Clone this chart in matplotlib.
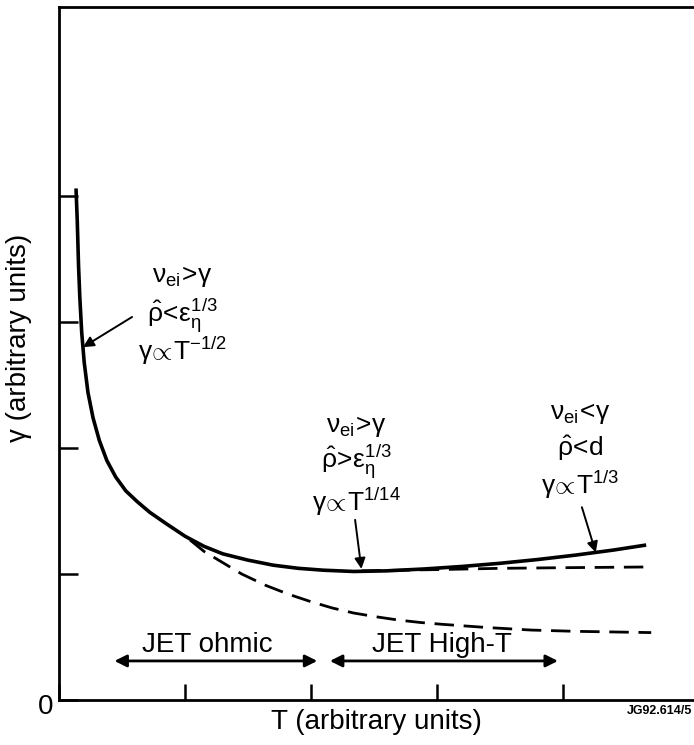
import matplotlib.pyplot as plt

plt.rcParams["font.family"] = ["Liberation Sans", "DejaVu Sans"]
plt.rcParams["mathtext.fontset"] = "custom"
plt.rcParams["mathtext.rm"] = "Liberation Sans"
plt.rcParams["mathtext.it"] = "Liberation Sans"
plt.rcParams["mathtext.bf"] = "Liberation Sans:bold"

# full growth-rate curve (arbitrary units)
T_full = [0.135, 0.145, 0.155, 0.165, 0.18, 0.20, 0.23, 0.27, 0.32, 0.38,
          0.45, 0.53, 0.62, 0.72, 0.85, 1.00, 1.15, 1.30, 1.50, 1.70,
          1.90, 2.10, 2.34, 2.60, 2.90, 3.20, 3.50, 3.80, 4.10, 4.40, 4.66]
g_full = [4.06, 3.80, 3.45, 3.20, 2.92, 2.68, 2.44, 2.24, 2.06, 1.90,
          1.77, 1.66, 1.575, 1.49, 1.40, 1.30, 1.22, 1.16, 1.11, 1.07,
          1.045, 1.03, 1.02, 1.025, 1.04, 1.06, 1.085, 1.115, 1.15, 1.19, 1.23]

# T^-1/2 branch continued (lower dashed)
T_low = [1.04, 1.15, 1.30, 1.45, 1.64, 1.82, 2.00, 2.17, 2.34, 2.52,
         2.69, 2.87, 3.05, 3.40, 3.75, 4.10, 4.70]
g_low = [1.27, 1.18, 1.09, 1.00, 0.91, 0.84, 0.78, 0.73, 0.69, 0.66,
         0.635, 0.615, 0.60, 0.575, 0.555, 0.545, 0.535]

# T^1/14 branch continued (upper dashed)
T_mid = [2.40, 3.00, 3.50, 4.00, 4.70]
g_mid = [1.025, 1.035, 1.045, 1.05, 1.056]

xticks = [0, 1, 2, 3, 4]
yticks = [0, 1, 2, 3, 4]

fig = plt.figure(figsize=(6.94, 7.45), dpi=100)
ax = fig.add_axes([59 / 694, 45 / 745, 635 / 694, 693 / 745])
ax.set_xlim(0, 635 / 126)
ax.set_ylim(0, 693 / 126)

ax.plot(T_full, g_full, color="k", lw=2.6, solid_capstyle="butt",
        solid_joinstyle="round")
ax.plot(T_low, g_low, color="k", lw=2.0, dashes=(7, 3.5))
ax.plot(T_mid, g_mid, color="k", lw=2.0, dashes=(7, 3.5))

for s in ["left", "bottom", "top"]:
    ax.spines[s].set_linewidth(2.0)
ax.spines["right"].set_visible(False)

ax.set_xticks(xticks)
ax.set_yticks(yticks)
ax.set_xticklabels([])
ax.set_yticklabels([])
ax.tick_params(axis="x", direction="in", length=11.5, width=1.8)
ax.tick_params(axis="y", direction="in", length=13.7, width=1.8)

fig.text(46 / 694, 1 - 707 / 745, "0", fontsize=20, ha="center", va="center")
fig.text(376 / 694, 1 - 722 / 745, "T (arbitrary units)", fontsize=20,
         ha="center", va="center")
fig.text(19 / 694, 1 - 338 / 745, "γ (arbitrary units)", fontsize=20,
         ha="center", va="center", rotation=90)
fig.text(627 / 694, 1 - 711 / 745, "JG92.614/5", fontsize=9, weight="bold",
         ha="left", va="center")

fs = 19
labels = [
    (0.98, [3.36, 3.05, 2.77],
     [r"$\mathrm{\nu_{ei}\!>\!\gamma}$",
      r"$\mathrm{\hat{\rho}\!<\!\varepsilon_{\eta}^{1/3}}$",
      r"$\mathrm{\gamma\!\propto\! T^{-1/2}}$"]),
    (2.36, [2.17, 1.89, 1.57],
     [r"$\mathrm{\nu_{ei}\!>\!\gamma}$",
      r"$\mathrm{\hat{\rho}\!>\!\varepsilon_{\eta}^{1/3}}$",
      r"$\mathrm{\gamma\!\propto\! T^{1/14}}$"]),
    (4.14, [2.27, 2.00, 1.71],
     [r"$\mathrm{\nu_{ei}\!<\!\gamma}$",
      r"$\mathrm{\hat{\rho}\!<\!d}$",
      r"$\mathrm{\gamma\!\propto\! T^{1/3}}$"]),
]
for x, ys, lines in labels:
    for y, t in zip(ys, lines):
        ax.text(x, y, t, fontsize=fs, ha="center", va="center")

arrow = dict(arrowstyle="-|>", color="k", lw=1.4, mutation_scale=16,
             shrinkA=0, shrinkB=0)
ax.annotate("", xy=(0.19, 2.80), xytext=(0.58, 3.04), arrowprops=arrow)
ax.annotate("", xy=(2.40, 1.04), xytext=(2.35, 1.43), arrowprops=arrow)
ax.annotate("", xy=(4.26, 1.17), xytext=(4.15, 1.53), arrowprops=arrow)

darrow = dict(arrowstyle="<|-|>", color="k", lw=2.0, mutation_scale=18,
              shrinkA=0, shrinkB=0)
ax.annotate("", xy=(0.44, 0.31), xytext=(2.05, 0.31), arrowprops=darrow)
ax.annotate("", xy=(2.15, 0.31), xytext=(3.96, 0.31), arrowprops=darrow)
ax.text(1.18, 0.44, "JET ohmic", fontsize=20, ha="center", va="center")
ax.text(3.04, 0.44, "JET High-T", fontsize=20, ha="center", va="center")

fig.savefig("out.png", dpi=100)
